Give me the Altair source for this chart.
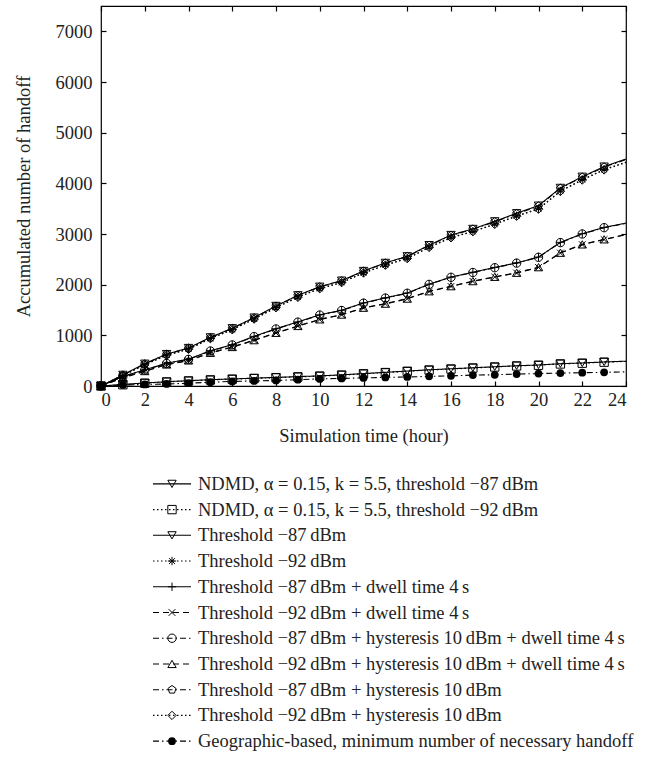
import altair as alt
import pandas as pd

TS = "\u2009"
hours = list(range(25))

names = [
    f"NDMD, α = 0.15, k = 5.5, threshold −87{TS}dBm",
    f"NDMD, α = 0.15, k = 5.5, threshold −92{TS}dBm",
    f"Threshold −87{TS}dBm",
    f"Threshold −92{TS}dBm",
    f"Threshold −87{TS}dBm + dwell time 4{TS}s",
    f"Threshold −92{TS}dBm + dwell time 4{TS}s",
    f"Threshold −87{TS}dBm + hysteresis 10{TS}dBm + dwell time 4{TS}s",
    f"Threshold −92{TS}dBm + hysteresis 10{TS}dBm + dwell time 4{TS}s",
    f"Threshold −87{TS}dBm + hysteresis 10{TS}dBm",
    f"Threshold −92{TS}dBm + hysteresis 10{TS}dBm",
    "Geographic-based, minimum number of necessary handoff",
]

ndmd_87 = [0, 30, 60, 85, 105, 125, 140, 155, 170, 185, 200, 220, 245, 270, 295, 320, 340, 360, 380, 400, 415, 440, 455, 475, 490]
ndmd_92 = [0, 25, 55, 80, 100, 120, 135, 150, 165, 180, 195, 215, 240, 265, 290, 315, 335, 355, 375, 395, 410, 435, 450, 470, 485]
thr_87 = [0, 220, 440, 630, 750, 960, 1140, 1350, 1580, 1790, 1960, 2080, 2270, 2430, 2560, 2780, 2980, 3100, 3250, 3410, 3560, 3910, 4130, 4330, 4480]
thr_92 = [0, 210, 420, 610, 730, 940, 1115, 1325, 1550, 1755, 1925, 2045, 2235, 2390, 2520, 2740, 2935, 3050, 3200, 3360, 3500, 3850, 4075, 4275, 4420]
thr_87_dw = [0, 190, 320, 450, 530, 695, 815, 980, 1130, 1265, 1405, 1495, 1640, 1740, 1835, 2010, 2150, 2245, 2340, 2430, 2545, 2835, 3005, 3130, 3215]
thr_92_dw = [0, 160, 290, 420, 500, 650, 765, 900, 1045, 1180, 1310, 1405, 1540, 1620, 1720, 1865, 1965, 2065, 2150, 2230, 2340, 2625, 2790, 2890, 2985]
thr_87_hy_dw = [0, 185, 315, 445, 525, 690, 810, 975, 1125, 1260, 1400, 1490, 1635, 1735, 1830, 2005, 2145, 2240, 2335, 2425, 2540, 2830, 3000, 3125, 3210]
thr_92_hy_dw = [0, 165, 295, 425, 505, 655, 770, 905, 1050, 1185, 1315, 1410, 1545, 1625, 1725, 1870, 1970, 2070, 2155, 2235, 2345, 2630, 2795, 2895, 2990]
thr_87_hy = [0, 215, 435, 625, 745, 955, 1135, 1345, 1575, 1785, 1955, 2075, 2265, 2425, 2555, 2775, 2970, 3095, 3240, 3400, 3550, 3900, 4120, 4320, 4470]
thr_92_hy = [0, 205, 415, 605, 725, 935, 1110, 1320, 1545, 1750, 1920, 2040, 2230, 2385, 2515, 2735, 2925, 3045, 3190, 3350, 3490, 3840, 4065, 4265, 4410]
geo = [0, 20, 30, 40, 55, 75, 90, 100, 110, 125, 140, 150, 160, 170, 178, 190, 200, 215, 222, 235, 245, 255, 262, 270, 280]

series_values = [ndmd_87, ndmd_92, thr_87, thr_92, thr_87_dw, thr_92_dw,
                 thr_87_hy_dw, thr_92_hy_dw, thr_87_hy, thr_92_hy, geo]

x_ticks = list(range(0, 25, 2))
y_ticks = list(range(0, 7001, 1000))

# styles
SOLID, DOT, DASH, DASHDOT = [1, 0], [1.5, 2.5], [6, 4], [6, 3, 1.5, 3]
dashes = [SOLID, DOT, SOLID, DOT, SOLID, DASH, DASHDOT, DASH, DASHDOT, DOT, DASHDOT]
ASTER = "M-1,0L1,0M0,-1L0,1M-0.7,-0.7L0.7,0.7M-0.7,0.7L0.7,-0.7"
PLUS = "M-1,0L1,0M0,-1L0,1"
XMARK = "M-0.8,-0.8L0.8,0.8M-0.8,0.8L0.8,-0.8"
PENT = "M0,-1L0.951,-0.309L0.588,0.809L-0.588,0.809L-0.951,-0.309Z"
shapes = ["triangle-down", "square", "triangle-down", ASTER, PLUS, XMARK,
          "circle", "triangle-up", PENT, "diamond", "circle"]

rows = []
for name, vals in zip(names, series_values):
    for h, v in zip(hours, vals):
        rows.append({"series": name, "hour": h, "value": v})
df = pd.DataFrame(rows)

W, H = 525, 380
FONT = "Liberation Serif"
FS = 18.5
TXT = "#222222"
xs = alt.Scale(domain=[0, 24], nice=False)
ys = alt.Scale(domain=[0, 7500], nice=False)
dash_scale = alt.Scale(domain=names, range=dashes)
shape_scale = alt.Scale(domain=names, range=shapes)

common_axis = dict(labelFont=FONT, labelFontSize=FS, labelColor=TXT,
                   titleFont=FONT, titleFontSize=FS, titleFontWeight="normal",
                   titleColor=TXT, grid=False, domain=False)

X_main = alt.X("hour:Q", scale=xs, axis=alt.Axis(
    orient="bottom", values=x_ticks, ticks=False, labelPadding=4,
    title="Simulation time (hour)", titlePadding=18, **common_axis))
Y_main = alt.Y("value:Q", scale=ys, axis=alt.Axis(
    orient="left", values=y_ticks, ticks=False, labelPadding=9,
    title="Accumulated number of handoff", titlePadding=22, format="d", **common_axis))

base = alt.Chart(df)
lines = base.mark_line(color="black", strokeWidth=1.1).encode(
    x=X_main, y=Y_main,
    strokeDash=alt.StrokeDash("series:N", scale=dash_scale, legend=None),
    detail="series:N",
)
pts_open = base.transform_filter(alt.datum.hour <= 23).transform_filter(
    alt.datum.series != names[-1]
).mark_point(filled=False, color="black", strokeWidth=1, size=70, opacity=1).encode(
    x=X_main, y=Y_main,
    shape=alt.Shape("series:N", scale=shape_scale, legend=None),
)
pts_geo = base.transform_filter(alt.datum.hour <= 23).transform_filter(
    alt.datum.series == names[-1]
).mark_point(filled=True, color="black", size=60, shape="circle", opacity=1).encode(
    x=X_main, y=Y_main,
)
data_layer = alt.layer(lines, pts_open, pts_geo)


def tick_axes(xorient, yorient):
    return base.mark_point(opacity=0, size=1).encode(
        x=alt.X("hour:Q", scale=xs, axis=alt.Axis(
            orient=xorient, offset=-H, values=x_ticks, labels=False, domain=False,
            grid=False, ticks=True, tickSize=5, tickWidth=1.2, tickColor="black", title=None)),
        y=alt.Y("value:Q", scale=ys, axis=alt.Axis(
            orient=yorient, offset=-W, values=y_ticks, labels=False, domain=False,
            grid=False, ticks=True, tickSize=5, tickWidth=1.2, tickColor="black", title=None)),
    )


plot = alt.layer(data_layer, tick_axes("top", "right"), tick_axes("bottom", "left")).resolve_scale(
    x="independent", y="independent"
).properties(width=W, height=H, view=alt.ViewBackground(stroke="black", strokeWidth=1.2))

# legend panel
leg_df = pd.DataFrame({"series": names, "label": names})
lb = alt.Chart(leg_df)
ly = alt.Y("series:N", sort=names, axis=None, scale=alt.Scale(domain=names))
X0, X1, XM, XT = 52, 90, 71, 97
l_rule = lb.mark_rule(color="black", strokeWidth=1.1).encode(
    x=alt.value(X0), x2=alt.value(X1), y=ly,
    strokeDash=alt.StrokeDash("series:N", scale=dash_scale, legend=None),
)
l_pts = lb.transform_filter(alt.datum.series != names[-1]).mark_point(
    filled=False, color="black", strokeWidth=1, size=70, opacity=1
).encode(x=alt.value(XM), y=ly, shape=alt.Shape("series:N", scale=shape_scale, legend=None))
l_geo = lb.transform_filter(alt.datum.series == names[-1]).mark_point(
    filled=True, color="black", size=60, shape="circle", opacity=1
).encode(x=alt.value(XM), y=ly)
l_text = lb.mark_text(align="left", baseline="middle", font=FONT, fontSize=FS, color=TXT).encode(
    x=alt.value(XT), y=ly, text="label:N"
)
legend = alt.layer(l_rule, l_pts, l_geo, l_text).properties(
    width=W, height=283, view=alt.ViewBackground(stroke="transparent")
)

chart = alt.vconcat(plot, legend, spacing=24).properties(
    padding={"left": 13, "top": 4, "right": 5, "bottom": 5}
).configure(background="white")

chart.save("out.html", embed_options={"renderer": "svg", "actions": False})
